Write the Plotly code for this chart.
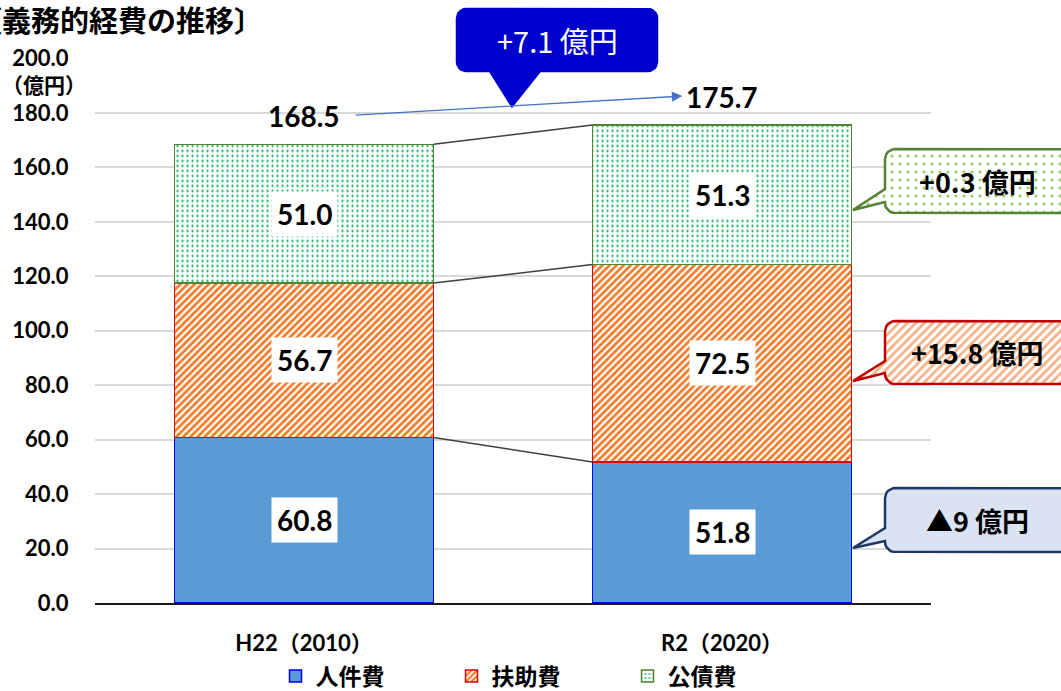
import math
import numpy as np
import plotly.graph_objects as go

# ---------------- data ----------------
categories = ["H22（2010）", "R2（2020）"]
series_names = ["人件費", "扶助費", "公債費"]
personnel = [60.8, 51.8]      # 人件費
assistance = [56.7, 72.5]     # 扶助費
debt = [51.0, 51.3]           # 公債費
totals = [168.5, 175.7]
y_ticks = [0, 20, 40, 60, 80, 100, 120, 140, 160, 180, 200]
total_change_text = "+7.1 億円"
change_texts = ["+0.3 億円", "+15.8 億円", "▲9 億円"]   # 公債費, 扶助費, 人件費
title_text = "〔義務的経費の推移〕"
unit_text = "（億円）"

# ---------------- layout constants ----------------
W, H = 1061, 691
PX_L, PX_R = 95, 931
PX_Y0, PX_YTOP = 603, 58.5
BAR_W = 0.62
HALF = BAR_W / 2

FONT_NUM = "Lato, 'Noto Sans CJK JP', sans-serif"
FONT_JP = "'Noto Sans CJK JP', sans-serif"

series = [personnel, assistance, debt]
styles = [
    dict(color="#5B9BD5", line=dict(color="#0000FF", width=1.5)),
    dict(color="white",
         pattern=dict(shape="/", fgcolor="#ED7D31", bgcolor="white", size=5,
                      solidity=0.55, fgopacity=1),
         line=dict(color="#E00000", width=1.5)),
    dict(color="white",
         pattern=dict(shape=".", fgcolor="#00B050", bgcolor="white", size=5,
                      solidity=0.16, fgopacity=1),
         line=dict(color="#548235", width=1.5)),
]

fig = go.Figure()
for name, vals, st in zip(series_names, series, styles):
    fig.add_trace(go.Bar(x=categories, y=vals, name=name, marker=st,
                         hoverinfo="skip", xaxis="x", yaxis="y"))

cum = np.cumsum(np.array(series), axis=0)   # shape (3, 2)
annotations = []
shapes = []

# segment value labels
for s, vals in enumerate(series):
    for i, v in enumerate(vals):
        annotations.append(dict(
            x=i, y=cum[s][i] - v / 2, xref="x", yref="y", text=f"<b>{v:.1f}</b>",
            showarrow=False, bgcolor="white", borderpad=5,
            font=dict(family=FONT_NUM, size=28, color="black")))

# connector lines between bars
for s in range(3):
    shapes.append(dict(type="line", xref="x", yref="y",
                       x0=0 + HALF, y0=cum[s][0], x1=1 - HALF, y1=cum[s][1],
                       line=dict(color="#404040", width=1.5), layer="above"))

# totals
for i, t in enumerate(totals):
    annotations.append(dict(
        x=i, y=cum[2][i] + 10.3, xref="x", yref="y", text=f"<b>{t:.1f}</b>",
        showarrow=False, font=dict(family=FONT_NUM, size=28, color="black")))

# arrow between totals
annotations.append(dict(
    x=0.905, y=totals[1] + 10.5, xref="x", yref="y",
    ax=0.12, ay=totals[0] + 10.7, axref="x", ayref="y",
    text="", showarrow=True, arrowhead=2, arrowsize=1.6, arrowwidth=1.3,
    arrowcolor="#4472C4", standoff=0, startstandoff=0))


# ---------------- callouts (pixel overlay axes) ----------------
def callout_path(x0, y0, x1, y1, r, side, b0, b1, tip):
    pts = []

    def arc(cx, cy, a0, a1, n=6):
        for k in range(n + 1):
            a = math.radians(a0 + (a1 - a0) * k / n)
            pts.append((cx + r * math.cos(a), cy + r * math.sin(a)))

    arc(x0 + r, y0 + r, 180, 270)
    arc(x1 - r, y0 + r, 270, 360)
    arc(x1 - r, y1 - r, 0, 90)
    if side == "bottom":
        pts.extend([(b1, y1), tip, (b0, y1)])
    arc(x0 + r, y1 - r, 90, 180)
    if side == "left":
        pts.extend([(x0, b1), tip, (x0, b0)])
    pts.append(pts[0])
    xs, ys = zip(*pts)
    return list(xs), list(ys)


def add_callout(geom, line_color, fillcolor, pattern=None):
    xs, ys = callout_path(*geom)
    kw = dict(fillpattern=pattern) if pattern else {}
    fig.add_trace(go.Scatter(x=xs, y=ys, mode="lines", fill="toself",
                             fillcolor=fillcolor,
                             line=dict(color=line_color, width=2.5),
                             hoverinfo="skip", showlegend=False,
                             xaxis="x2", yaxis="y2", **kw))


# total change callout (blue)
add_callout((457, 9, 657, 71, 9, "bottom", 490, 540, (512, 106)), "#0000CC", "#0000CC")
annotations.append(dict(x=557, y=40, xref="x2", yref="y2", text=total_change_text,
                        showarrow=False, font=dict(family=FONT_JP, size=29, color="white")))

right_geoms = [
    (885, 149, 1080, 213, 10, "left", 189, 202, (853, 210)),
    (885, 321, 1080, 384, 10, "left", 361, 373, (853, 381)),
    (885, 488, 1080, 552, 10, "left", 528, 541, (853, 548)),
]
right_styles = [
    ("#548235", "white", dict(shape=".", fgcolor="#8FD16A", bgcolor="white", size=8,
                              solidity=0.12, fgopacity=1)),
    ("#C00000", "white", dict(shape="/", fgcolor="#F4B183", bgcolor="white", size=6,
                              solidity=0.45, fgopacity=1)),
    ("#1F3864", "#DAE3F3", None),
]
for g, (lc, fc, pat), txt in zip(right_geoms, right_styles, change_texts):
    add_callout(g, lc, fc, pat)
    annotations.append(dict(x=977, y=(g[1] + g[3]) / 2, xref="x2", yref="y2",
                            text=f"<b>{txt}</b>", showarrow=False,
                            font=dict(family=FONT_JP, size=27, color="black")))

# title & unit
annotations.append(dict(x=-29 / W, y=1 - 19 / H, xref="paper", yref="paper",
                        xanchor="left", yanchor="middle", text=f"<b>{title_text}</b>",
                        showarrow=False, font=dict(family=FONT_JP, size=29, color="black")))
annotations.append(dict(x=44 / W, y=1 - 84 / H, xref="paper", yref="paper",
                        xanchor="center", yanchor="middle", text=f"<b>{unit_text}</b>",
                        showarrow=False, font=dict(family=FONT_JP, size=21, color="black")))

fig.update_layout(
    width=W, height=H, autosize=False,
    margin=dict(l=0, r=0, t=0, b=0, autoexpand=False),
    paper_bgcolor="white", plot_bgcolor="rgba(0,0,0,0)",
    barmode="stack", bargap=1 - BAR_W,
    xaxis=dict(domain=[PX_L / W, PX_R / W], type="category", range=[-0.5, 1.5],
               anchor="y", showgrid=False, showline=True, linecolor="#1a1a1a", linewidth=1.5,
               ticks="outside", ticklen=20, tickcolor="rgba(0,0,0,0)",
               tickfont=dict(family=FONT_NUM, size=22, color="black", weight="bold"),
               fixedrange=True, automargin=False),
    yaxis=dict(domain=[(H - PX_Y0) / H, (H - PX_YTOP) / H], range=[0, 200], anchor="x",
               tickvals=y_ticks, tickformat=".1f", showgrid=True, gridcolor="#D9D9D9",
               gridwidth=1.5, zeroline=False, showline=False,
               ticks="outside", ticklen=21, tickcolor="rgba(0,0,0,0)",
               tickfont=dict(family=FONT_NUM, size=22, color="black", weight="bold"),
               fixedrange=True, automargin=False),
    xaxis2=dict(domain=[0, 1], range=[0, W], anchor="y2", visible=False, fixedrange=True),
    yaxis2=dict(domain=[0, 1], range=[H, 0], anchor="x2", visible=False, fixedrange=True),
    legend=dict(orientation="h", x=(295.5 - 20) / W, xanchor="left",
                y=(H - 676) / H, yanchor="middle", entrywidth=131, traceorder="normal",
                font=dict(family=FONT_JP, size=23, color="black", weight="bold"),
                bgcolor="rgba(0,0,0,0)"),
    annotations=annotations,
    shapes=shapes,
    showlegend=True,
)

fig.write_html("out.html", config={"displayModeBar": False},
               post_script="document.body.style.margin='0';document.body.style.overflow='hidden';")
